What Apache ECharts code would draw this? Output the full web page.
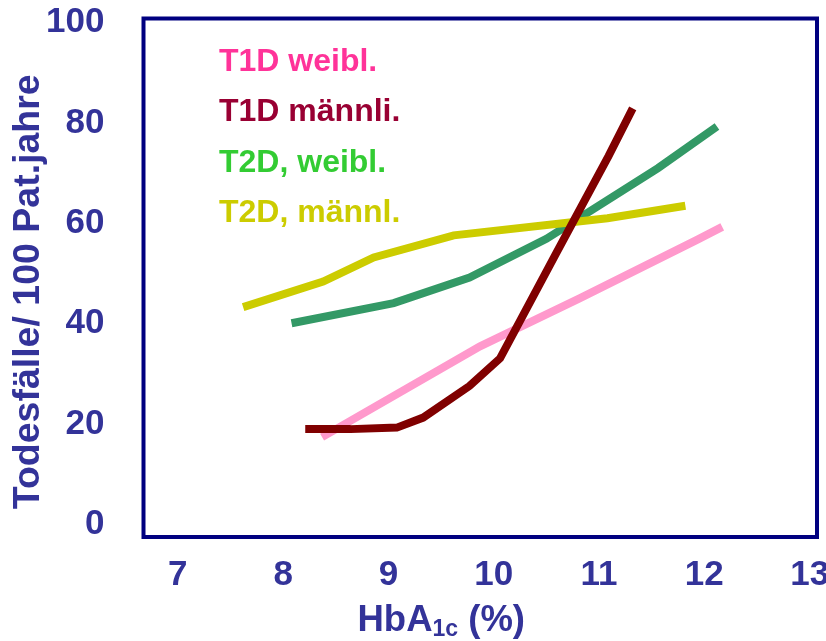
<!DOCTYPE html>
<html>
<head>
<meta charset="utf-8">
<script src="https://cdn.jsdelivr.net/npm/echarts@6/dist/echarts.min.js"></script>
<style>
  html, body { margin: 0; padding: 0; background: #fff; }
  #chart { width: 826px; height: 641px; }
</style>
</head>
<body>
<div id="chart"></div>
<script>
// HbA1c (%) against deaths per 100 patient-years, by diabetes type and sex
const xTicks = [7, 8, 9, 10, 11, 12, 13];
const yTicks = [0, 20, 40, 60, 80, 100];

const seriesNames = ['T1D weibl.', 'T1D männli.', 'T2D, weibl.', 'T2D, männl.'];

const t1dWeibl = [[8.37, 17.4], [9.87, 35.5], [10.82, 45.1], [11.93, 56.7], [12.17, 59.3]];
const t1dMaennl = [[8.21, 19.0], [8.64, 19.0], [9.08, 19.3], [9.33, 21.3], [9.77, 27.6],
                   [10.06, 33.1], [10.59, 53.9], [11.09, 73.4], [11.32, 82.9]];
const t2dWeibl = [[8.08, 40.1], [9.05, 44.1], [9.77, 49.2], [10.50, 56.9], [11.56, 71.0], [12.12, 79.3]];
const t2dMaennl = [[7.62, 43.3], [8.38, 48.4], [8.86, 53.2], [9.62, 57.6], [11.08, 61.0], [11.82, 63.5]];

const lineColors = ['#FF99CC', '#800000', '#339966', '#CCCC00'];
const textColors = ['#FF3399', '#990033', '#33CC33', '#CCCC00'];

const FONT = 'Arial, "Liberation Sans", sans-serif';
const AXIS_COLOR = '#333399';

const chart = echarts.init(document.getElementById('chart'), null, { renderer: 'canvas' });

const dataSets = [t1dWeibl, t1dMaennl, t2dWeibl, t2dMaennl];

chart.setOption({
  animation: false,
  backgroundColor: '#fff',
  grid: {
    left: 143.5, right: 9, top: 18.5, bottom: 104,
    containLabel: false,
    outerBoundsMode: 'none',
    show: true,
    borderColor: '#000080',
    borderWidth: 4,
    backgroundColor: 'transparent'
  },
  legend: {
    orient: 'vertical',
    left: 209,
    top: 39,
    icon: 'none',
    itemWidth: 0,
    itemHeight: 14,
    itemGap: 14.5,
    selectedMode: false,
    textStyle: {
      fontFamily: FONT, fontWeight: 'bold', fontSize: 32, lineHeight: 36
    },
    data: seriesNames.map((n, i) => ({ name: n, textStyle: { color: textColors[i] } }))
  },
  xAxis: {
    type: 'value',
    min: 6.674,
    max: 13.07,
    name: '{a|HbA}{s|1c}{a| (%)}',
    nameLocation: 'middle',
    nameGap: 63,
    nameMoveOverlap: false,
    nameTextStyle: {
      padding: [0, 78, 0, 0],
      rich: {
        a: { fontFamily: FONT, fontWeight: 'bold', fontSize: 36.5, color: AXIS_COLOR },
        s: { fontFamily: FONT, fontWeight: 'bold', fontSize: 23, color: AXIS_COLOR, padding: [18, 0, 0, 0] }
      }
    },
    axisLine: { show: false },
    axisTick: { show: false },
    splitLine: { show: false },
    axisLabel: {
      customValues: xTicks,
      margin: 21,
      color: AXIS_COLOR,
      fontFamily: FONT,
      fontWeight: 'bold',
      fontSize: 35
    }
  },
  yAxis: {
    type: 'value',
    min: -2.49,
    max: 100.8,
    name: 'Todesfälle/ 100 Pat.jahre',
    nameLocation: 'middle',
    nameRotate: 90,
    nameGap: 96,
    nameMoveOverlap: false,
    nameTextStyle: {
      fontFamily: FONT, fontWeight: 'bold', fontSize: 37.5, color: AXIS_COLOR,
      padding: [0, 28, 0, 0]
    },
    axisLine: { show: false },
    axisTick: { show: false },
    splitLine: { show: false },
    axisLabel: {
      customValues: yTicks,
      margin: 39,
      color: AXIS_COLOR,
      fontFamily: FONT,
      fontWeight: 'bold',
      fontSize: 35
    }
  },
  series: seriesNames.map((n, i) => ({
    name: n,
    type: 'line',
    data: dataSets[i],
    showSymbol: false,
    symbol: 'none',
    color: lineColors[i],
    lineStyle: { color: lineColors[i], width: 8, cap: 'butt', join: 'miter' },
    z: i === 1 ? 3 : 2
  }))
});
</script>
</body>
</html>
